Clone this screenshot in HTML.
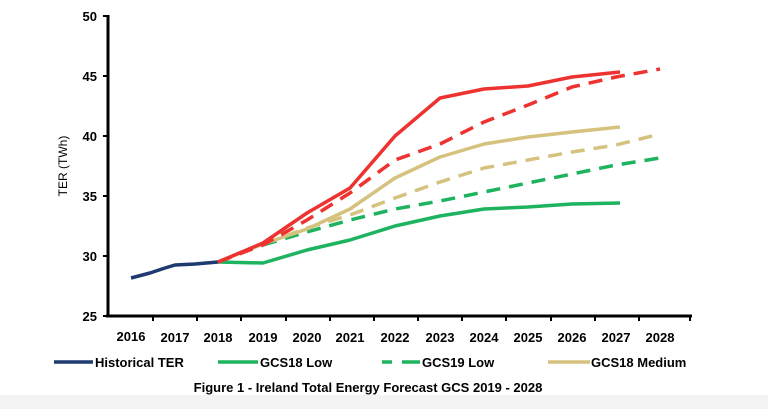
<!DOCTYPE html>
<html><head><meta charset="utf-8"><style>
html,body{margin:0;padding:0;background:#fff}
svg{display:block}
text{font-family:"Liberation Sans",sans-serif;font-weight:bold;fill:#000}
</style></head><body>
<svg width="768" height="409" viewBox="0 0 768 409" xmlns="http://www.w3.org/2000/svg">
<rect x="0" y="395" width="768" height="14" fill="#f4f4f4"/>
<g fill="none" stroke-linejoin="round" stroke-linecap="butt" stroke-width="3.5">
<polyline stroke="#1f3a70" points="131,278 150,273 165,268 175,265 195,264 218,262"/>
<polyline stroke="#1db35f" points="218,262 263,263 307,250 350,240 395,226 440,216 484,209 528,207 572,204 620,203"/>
<polyline stroke="#1db35f" stroke-dasharray="14,9" points="263,245 307,232 350,220 395,209 440,201 484,192 528,183 572,174 616,165 660,158"/>
<polyline stroke="#d6c27f" points="218,262 263,244 307,229 350,209 395,178 440,157 484,144 528,137 572,132 620,127"/>
<polyline stroke="#d6c27f" stroke-dasharray="14,9" points="263,244 307,228 350,215 395,198 440,182 484,168 528,160 572,152 616,145 660,134"/>
<polyline stroke="#ee3230" points="218,262 263,243 307,213 350,188 395,136 440,98 484,89 528,86 572,77 620,72"/>
<polyline stroke="#ee3230" stroke-dasharray="14,9" points="218,262 263,245 307,220 350,193 395,160 440,144 484,122 528,105 572,87 616,77 660,69"/>
</g>
<g stroke="#000" stroke-width="3">
<line x1="108" y1="15" x2="108" y2="317"/>
<line x1="106" y1="316" x2="692" y2="316"/>
</g>
<g stroke="#000" stroke-width="2">
<line x1="103" y1="16" x2="108" y2="16"/><line x1="103" y1="76" x2="108" y2="76"/><line x1="103" y1="136" x2="108" y2="136"/><line x1="103" y1="196" x2="108" y2="196"/><line x1="103" y1="256" x2="108" y2="256"/><line x1="103" y1="316" x2="108" y2="316"/>
<line x1="153" y1="316" x2="153" y2="321"/><line x1="197" y1="316" x2="197" y2="321"/><line x1="241" y1="316" x2="241" y2="321"/><line x1="286" y1="316" x2="286" y2="321"/><line x1="330" y1="316" x2="330" y2="321"/><line x1="374" y1="316" x2="374" y2="321"/><line x1="418" y1="316" x2="418" y2="321"/><line x1="462" y1="316" x2="462" y2="321"/><line x1="506" y1="316" x2="506" y2="321"/><line x1="551" y1="316" x2="551" y2="321"/><line x1="595" y1="316" x2="595" y2="321"/><line x1="639" y1="316" x2="639" y2="321"/><line x1="690" y1="316" x2="690" y2="321"/>
</g>
<g font-size="13" text-anchor="end">
<text x="97" y="21">50</text><text x="97" y="81">45</text><text x="97" y="141">40</text><text x="97" y="201">35</text><text x="97" y="261">30</text><text x="97" y="321">25</text>
</g>
<g font-size="13" text-anchor="middle">
<text x="131" y="341">2016</text><text x="175" y="342">2017</text><text x="218" y="342">2018</text><text x="263" y="342">2019</text><text x="307" y="342">2020</text><text x="350" y="342">2021</text><text x="395" y="342">2022</text><text x="440" y="342">2023</text><text x="484" y="342">2024</text><text x="528" y="342">2025</text><text x="572" y="342">2026</text><text x="616" y="342">2027</text><text x="660" y="342">2028</text>
</g>
<text x="67" y="166" font-size="12" text-anchor="middle" transform="rotate(-90 67 166)" style="font-weight:normal">TER (TWh)</text>
<g stroke-width="3.5">
<line x1="54" y1="362" x2="93" y2="362" stroke="#1f3a70"/>
<line x1="218" y1="362" x2="258" y2="362" stroke="#1db35f"/>
<line x1="382" y1="362" x2="392" y2="362" stroke="#1db35f"/><line x1="402" y1="362" x2="420" y2="362" stroke="#1db35f"/>
<line x1="548" y1="362" x2="590" y2="362" stroke="#d6c27f"/>
</g>
<g font-size="13" style="font-weight:normal">
<text x="95" y="367">Historical TER</text>
<text x="260" y="367">GCS18 Low</text>
<text x="422" y="367">GCS19 Low</text>
<text x="591" y="367">GCS18 Medium</text>
</g>
<text x="368" y="392" font-size="13" text-anchor="middle">Figure 1 - Ireland Total Energy Forecast GCS 2019 - 2028</text>
</svg>
</body></html>
